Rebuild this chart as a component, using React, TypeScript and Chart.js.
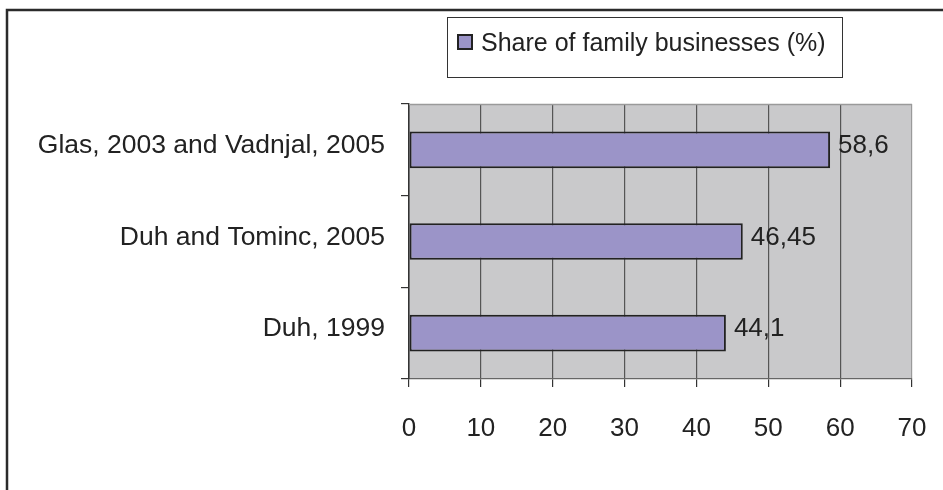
import React, { useEffect, useRef } from 'react';
import { Chart, registerables } from 'chart.js';

Chart.register(...registerables);

const categories = ['Glas, 2003 and Vadnjal, 2005', 'Duh and Tominc, 2005', 'Duh, 1999'];
const shareValues = [58.6, 46.45, 44.1];
const seriesLabel = 'Share of family businesses (%)';
const xTickValues = [0, 10, 20, 30, 40, 50, 60, 70];

const FONT = "'Liberation Sans', Arial, Helvetica, sans-serif";
const TEXT = '#222222';
const BAR_FILL = '#9b94c8';
const BAR_EDGE = '#222222';
const PLOT_BG = '#c9c9cb';

const framePlugin = {
  id: 'frameAndBg',
  beforeDraw(chart: any) {
    const { ctx, chartArea } = chart;
    ctx.save();
    ctx.fillStyle = '#ffffff';
    ctx.fillRect(0, 0, chart.width, chart.height);
    ctx.fillStyle = PLOT_BG;
    ctx.fillRect(chartArea.left, chartArea.top, chartArea.right - chartArea.left, chartArea.bottom - chartArea.top);
    ctx.restore();
  },
  beforeDatasetsDraw(chart: any) {
    const { ctx, chartArea } = chart;
    ctx.save();
    ctx.strokeStyle = '#9a9a9a';
    ctx.lineWidth = 1.5;
    ctx.beginPath();
    ctx.moveTo(chartArea.left, chartArea.top + 0.5);
    ctx.lineTo(chartArea.right, chartArea.top + 0.5);
    ctx.stroke();
    ctx.restore();
  },
  afterDraw(chart: any) {
    const { ctx } = chart;
    ctx.save();
    // outer frame
    ctx.strokeStyle = '#2b2b2b';
    ctx.lineWidth = 2.5;
    ctx.beginPath();
    ctx.moveTo(7, chart.height + 2);
    ctx.lineTo(7, 10);
    ctx.lineTo(chart.width + 2, 10);
    ctx.stroke();

    // legend
    const bx = 447, by = 17, bw = 395, bh = 60;
    ctx.strokeStyle = '#333333';
    ctx.lineWidth = 1;
    ctx.strokeRect(bx + 0.5, by + 0.5, bw, bh);
    ctx.fillStyle = BAR_FILL;
    ctx.fillRect(458, 35, 14, 14);
    ctx.strokeStyle = BAR_EDGE;
    ctx.lineWidth = 2;
    ctx.strokeRect(458, 35, 14, 14);
    ctx.fillStyle = TEXT;
    ctx.font = `25px ${FONT}`;
    ctx.textAlign = 'left';
    ctx.textBaseline = 'middle';
    ctx.fillText(chart.data.datasets[0].label, 481, 44);

    // value labels
    const meta = chart.getDatasetMeta(0);
    ctx.font = `26px ${FONT}`;
    meta.data.forEach((bar: any, i: number) => {
      const v = chart.data.datasets[0].data[i] as number;
      ctx.fillText(String(v).replace('.', ','), bar.x + 8, bar.y - 4);
    });
    ctx.restore();
  },
};

export default function App() {
  const ref = useRef<HTMLCanvasElement | null>(null);

  useEffect(() => {
    document.body.style.margin = '0';
    if (!ref.current) return;
    const chart = new Chart(ref.current, {
      type: 'bar',
      data: {
        labels: categories,
        datasets: [
          {
            label: seriesLabel,
            data: shareValues,
            backgroundColor: BAR_FILL,
            borderColor: BAR_EDGE,
            borderWidth: 2,
            borderSkipped: false,
            categoryPercentage: 1,
            barPercentage: 0.4,
          },
        ],
      },
      options: {
        indexAxis: 'y',
        animation: false,
        responsive: false,
        events: [],
        layout: { padding: { left: 0, top: 104, right: 31, bottom: 0 } },
        plugins: {
          legend: { display: false },
          tooltip: { enabled: false },
        },
        scales: {
          x: {
            type: 'linear',
            min: xTickValues[0],
            max: xTickValues[xTickValues.length - 1],
            afterFit(scale: any) {
              scale.height = 111;
              scale.paddingLeft = 0;
              scale.paddingRight = 0;
            },
            afterBuildTicks(scale: any) {
              scale.ticks = xTickValues.map((v) => ({ value: v }));
            },
            ticks: {
              color: TEXT,
              font: { family: FONT, size: 26 },
              padding: 26,
              maxRotation: 0,
              autoSkip: false,
            },
            grid: {
              color: (c: any) => (c.index === xTickValues.length - 1 ? '#9a9a9a' : '#555555'),
              lineWidth: 1.2,
              tickColor: '#333333',
              tickLength: 8,
            },
            border: { color: '#666666', width: 1.2 },
          },
          y: {
            type: 'category',
            afterFit(scale: any) {
              scale.width = 409;
              scale.paddingTop = 0;
              scale.paddingBottom = 0;
            },
            ticks: {
              color: TEXT,
              font: { family: FONT, size: 26.5, lineHeight: '8px' },
              padding: 16,
              callback(this: any, value: any) {
                return [this.getLabelForValue(value), ''];
              },
            },
            grid: {
              offset: true,
              drawOnChartArea: false,
              drawTicks: true,
              tickLength: 8,
              color: '#333333',
              lineWidth: 1.2,
            },
            border: { color: '#333333', width: 1.5 },
          },
        },
      },
      plugins: [framePlugin],
    });
    return () => chart.destroy();
  }, []);

  return (
    <canvas ref={ref} width={943} height={490} style={{ display: 'block' }} />
  );
}
